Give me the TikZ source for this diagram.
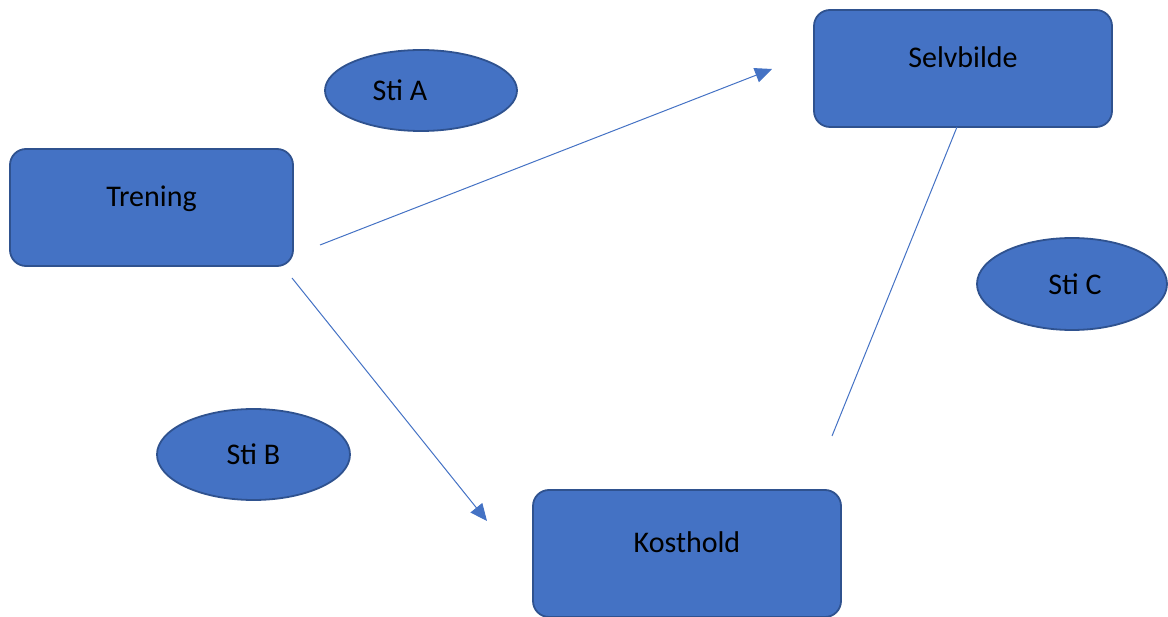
\documentclass[tikz,border=0pt]{standalone}
\usepackage{fontspec}
\setmainfont{Carlito}
\usetikzlibrary{shapes.geometric,arrows.meta}
\definecolor{boxfill}{HTML}{4472C4}
\definecolor{boxline}{HTML}{2F528F}
\tikzset{
	boks/.style={draw=boxline, fill=boxfill, line width=1.8pt, rounded corners=16pt, inner sep=0pt, text height=21pt, text depth=23pt, font=\fontsize{30}{36}\selectfont},
	sti/.style={ellipse, draw=boxline, fill=boxfill, line width=1.8pt, inner sep=0pt, font=\fontsize{30}{36}\selectfont},
	pil/.style={draw=boxfill, line width=1pt}
}
\begin{document}
		\begin{tikzpicture}[x=1pt,y=-1pt]
			\useasboundingbox (0,0) rectangle (1168,617);
			\node (trening) [boks, minimum width=283pt, minimum height=117pt] at (151.5,207.5) {Trening};
			\node (selvbilde) [boks, minimum width=298pt, minimum height=117pt] at (963,68.5) {Selvbilde};
			\node (kosthold) [boks, minimum width=308pt, minimum height=127pt] at (687,553.5) {Kosthold};
			\node (stiA) [sti, minimum width=192pt, minimum height=81pt] at (421,90.5) {Sti A\hspace*{42pt}};
			\node (stiB) [sti, minimum width=193pt, minimum height=91pt] at (253.5,454.5) {Sti B};
			\node (stiC) [sti, minimum width=190pt, minimum height=92pt] at (1072,284) {\hspace*{6pt}Sti C};
			\coordinate (aStart) at (320,245);
			\coordinate (aSlutt) at (772,69);
			\coordinate (bStart) at (292,278);
			\coordinate (bSlutt) at (487,521);
			\coordinate (cStart) at (957,127);
			\coordinate (cSlutt) at (832,436);
			\draw [pil, -{Triangle[length=17pt,width=15pt]}] (aStart) -- (aSlutt);
			\draw [pil, -{Triangle[length=17pt,width=15pt]}] (bStart) -- (bSlutt);
			\draw [pil] (cStart) -- (cSlutt);
		\end{tikzpicture}
\end{document}
